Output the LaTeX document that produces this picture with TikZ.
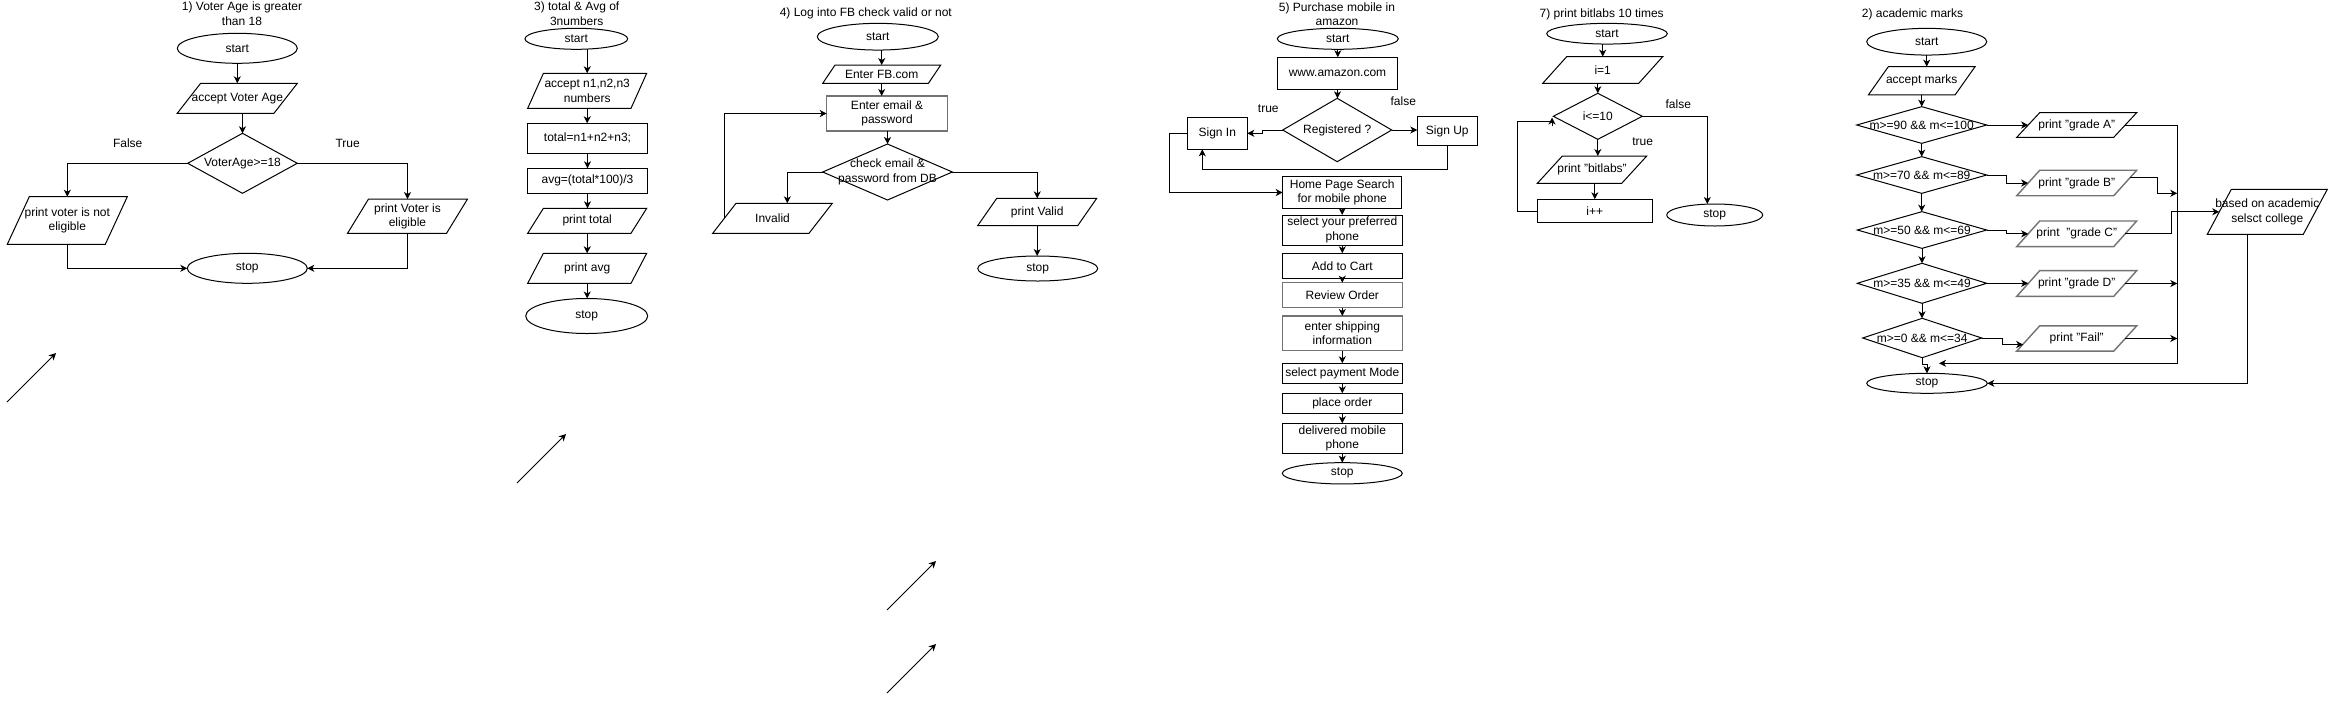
\documentclass[tikz,border=0pt]{standalone}
\usepackage{fontspec}
\setmainfont{Liberation Sans}
\usetikzlibrary{shapes.geometric,arrows.meta,calc}
\tikzset{
  txtbase/.style={inner sep=0pt, outer sep=0pt, align=center, font=\fontsize{12}{14.3}\selectfont},
  lbl/.style={txtbase},
  termbox/.style={txtbase, ellipse, draw, line width=1pt},
  procbox/.style={txtbase, rectangle, draw, line width=1pt},
  holder/.style={txtbase, rectangle},
  shp/.style={line width=1pt, line join=miter},
  grayshp/.style={line width=1.4pt, draw=black!55},
  arr/.style={line width=1pt, -{Stealth[length=7pt,width=7pt,inset=2pt]}},
  ln/.style={line width=1pt},
}
% name, x, y, w, h, text
\newcommand\mkterm[6]{\node[termbox, minimum width=#4pt, minimum height=#5pt] (#2) at (#3,#4) {#6};}
\newcommand\mktermb[6]{\node[termbox, minimum width=#4pt, minimum height=#5pt] (#1) at (#2,#3) {#6};}
% [style] name, x, y, w, h, text
\newcommand\mkproc[7][]{\node[procbox,#1, minimum width=#5pt, minimum height=#6pt] (#2) at (#3,#4) {#7};}
% [style] name, x, y, mid width, h, half slant, text
\newcommand\mkio[8][]{%
  \node[holder, minimum width=#5pt, minimum height=#6pt, label={[txtbase]center:{#8}}] (#2) at (#3,#4) {};
  \draw[shp,#1] ([xshift=#7pt]#2.north west) -- ([xshift=#7pt]#2.north east) -- ([xshift=-#7pt]#2.south east) -- ([xshift=-#7pt]#2.south west) -- cycle;}
% name, x, y, w, h, text
\newcommand\mkdec[6]{%
  \node[holder, minimum width=#4pt, minimum height=#5pt] (#1) at (#2,#3) {#6};
  \draw[shp] (#1.west) -- (#1.north) -- (#1.east) -- (#1.south) -- cycle;}
\begin{document}
\begin{tikzpicture}[x=1pt,y=-1pt]
\fill[white] (0,0) rectangle (2328,702);
\useasboundingbox (0,0) rectangle (2328,702);

% ===== 1) Voter =====
\node[lbl] (v_title) at (242,13.7) {1) Voter Age is greater\\than 18};
\mktermb{v_start}{237.3}{48.3}{120}{30}{start}
\mkio{v_acc}{237.3}{98.3}{96.7}{30}{11.7}{accept Voter Age}
\mkdec{v_dia}{242.5}{163.3}{109.6}{60}{VoterAge>=18}
\node[lbl] (v_false) at (127.7,143.3) {False};
\node[lbl] (v_true) at (347.7,143.3) {True};
\mkio{v_no}{67.3}{220.5}{98}{47.6}{11}{print voter is not\\eligible}
\mkio{v_yes}{407.5}{216.2}{99}{34.3}{10.5}{print Voter is\\eligible}
\mktermb{v_stop}{247.3}{268.3}{120}{30}{stop}
\draw[arr] (v_start.south) -- (v_acc.north);
\draw[arr] (v_dia.north |- v_acc.south) -- (v_dia.north);
\draw[arr] (v_dia.west) -| (v_no.north);
\draw[arr] (v_dia.east) -| (v_yes.north);
\draw[arr] (v_no.south) |- (v_stop.west);
\draw[arr] (v_yes.south) |- (v_stop.east);

% ===== 3) total & avg =====
\node[lbl] (t_title) at (576.7,13.7) {3) total \& Avg of\\3numbers};
\mktermb{t_start}{576.3}{38.8}{102.7}{21}{start}
\mkio{t_acc}{587.2}{90.8}{103.3}{35}{7.85}{accept n1,n2,n3\\numbers}
\mkproc{t_tot}{587.5}{138.3}{119.6}{30}{total=n1+n2+n3;}
\mkproc{t_avg}{587.5}{180.8}{119.6}{25}{avg=(total*100)/3}
\mkio{t_pt}{587.2}{220.8}{103.3}{25}{7.85}{print total}
\mkio{t_pa}{587.2}{268.3}{103.3}{30}{7.85}{print avg}
\mktermb{t_stop}{586.7}{316}{122}{35}{stop}
\draw[arr] (t_acc.north |- t_start.south) -- (t_acc.north);
\draw[arr] (t_acc.south) -- (t_acc.south |- t_tot.north);
\draw[arr] (t_tot.south) -- (t_avg.north);
\draw[arr] (t_avg.south) -- (t_avg.south |- t_pt.north);
\draw[arr] (t_pt.south) -- (t_pa.north);
\draw[arr] (t_pa.south) -- (t_pa.south |- t_stop.north);

% ===== 4) FB =====
\node[lbl] (f_title) at (865.8,13.3) {4) Log into FB check valid or not};
\mktermb{f_start}{877.8}{36.7}{121}{26.7}{start}
\mkio{f_fb}{881.7}{74.2}{105.7}{18.3}{6.15}{Enter FB.com}
\mkproc[grayshp]{f_em}{887}{113.5}{120.6}{35}{Enter email \&\\password}
\mkdec{f_dia}{887.5}{172}{129.6}{56}{check email \&\\password from DB}
\mkio{f_inv}{772.5}{218.3}{96.3}{30}{11.65}{Invalid}
\mkio{f_val}{1037.2}{212}{100}{27.3}{9.5}{print Valid}
\mktermb{f_stop}{1037.7}{268.5}{120}{25}{stop}
\draw[arr] (f_fb.north |- f_start.south) -- (f_fb.north);
\draw[arr] (f_fb.south) -- (f_fb.south |- f_em.north);
\draw[arr] (f_dia.north |- f_em.south) -- (f_dia.north);
\draw[arr] (f_dia.west) -| ([xshift=14.8pt]f_inv.north);
\draw[arr] (f_inv.west) |- (f_em.west);
\draw[arr] (f_dia.east) -| (f_val.north);
\draw[arr] (f_val.south) -- (f_val.south |- f_stop.north);

% ===== 5) Amazon =====
\node[lbl] (a_title) at (1337,14) {5) Purchase mobile in\\amazon};
\mktermb{a_start}{1337.8}{38.8}{121}{21}{start}
\mkproc{a_www}{1337.5}{73.3}{120.4}{32}{www.amazon.com}
\mkdec{a_dia}{1337.2}{130}{109}{63.4}{Registered ?}
\node[lbl] (a_true) at (1268.3,109) {true};
\node[lbl] (a_false) at (1403.3,101.7) {false};
\mkproc{a_in}{1217.3}{133.3}{60}{32}{Sign In}
\mkproc{a_up}{1447.3}{131.2}{60}{29}{Sign Up}
\mkproc{a_home}{1342.2}{192.5}{119}{31.6}{Home Page Search\\for mobile phone}
\mkproc{a_sel}{1342.3}{230}{120}{30}{select your preferred\\phone}
\mkproc{a_cart}{1342.3}{265.8}{120}{25}{Add to Cart}
\mkproc[grayshp]{a_rev}{1342.3}{295.2}{120}{25}{Review Order}
\mkproc[grayshp]{a_ship}{1342.3}{333.3}{120}{34.7}{enter shipping\\information}
\mkproc{a_pay}{1342.3}{373.3}{120}{20}{select payment Mode}
\mkproc{a_place}{1342.3}{403.3}{120}{20}{place order}
\mkproc{a_del}{1342.3}{438.3}{120}{30}{delivered mobile\\phone}
\mktermb{a_stop}{1342.3}{473.3}{120}{21.3}{stop}
\coordinate (a_ybot) at (0,169);
\draw[arr] (a_start.south) -- (a_start.south |- a_www.north);
\draw[arr] (a_www.south) -- (a_www.south |- a_dia.north);
\draw[arr] (a_dia.west) -- ([xshift=-20pt]a_dia.west) |- (a_in.east);
\draw[arr] (a_dia.east) -- (a_dia.east -| a_up.west);
\draw[arr] (a_up.south) -- (a_up.south |- a_ybot) -| ([xshift=-15pt]a_in.south);
\draw[arr] (a_in.west) -- ([xshift=-18pt]a_in.west) |- (a_home.west);
\draw[arr] (a_home.south) -- (a_home.south |- a_sel.north);
\draw[arr] (a_sel.south) -- (a_cart.north);
\draw[arr] (a_cart.south) -- (a_rev.north);
\draw[arr] (a_rev.south) -- (a_ship.north);
\draw[arr] (a_ship.south) -- (a_pay.north);
\draw[arr] (a_pay.south) -- (a_place.north);
\draw[arr] (a_place.south) -- (a_del.north);
\draw[arr] (a_del.south) -- (a_stop.north);

% ===== 7) bitlabs =====
\node[lbl] (b_title) at (1601.7,14) {7) print bitlabs 10 times};
\mktermb{b_start}{1607}{33.7}{120.6}{20.7}{start}
\mkio{b_i1}{1602.7}{70}{96}{26.7}{12}{i=1}
\mkdec{b_dia}{1597.8}{116.3}{89}{46}{i<=10}
\node[lbl] (b_false) at (1678.3,104) {false};
\node[lbl] (b_true) at (1642.7,141.7) {true};
\mkio{b_pr}{1592}{169.7}{84.4}{27.3}{12.5}{print "bitlabs"}
\mkproc{b_inc}{1594.8}{211}{115}{23.4}{i++}
\mktermb{b_stop}{1714.7}{215}{96}{22}{stop}
\coordinate (b_loopc) at (1552,121);
\coordinate (b_tipbase) at (1552,125.5);
\coordinate (b_tip) at (1552,117.5);
\draw[arr] (b_i1.north |- b_start.south) -- (b_i1.north);
\draw[arr] (b_dia.north |- b_i1.south) -- (b_dia.north);
\draw[arr] (b_dia.south) -- (b_dia.south |- b_pr.north);
\draw[arr] (b_inc.north |- b_pr.south) -- (b_inc.north);
\draw[ln] (b_inc.west) -- ([xshift=-20pt]b_inc.west) |- (b_loopc);
\draw[arr] (b_tipbase) -- (b_tip);
\draw[arr] (b_dia.east) -| ([xshift=-7.4pt]b_stop.north);

% ===== 2) academic marks =====
\node[lbl] (g_title) at (1912.5,14) {2) academic marks};
\mktermb{g_start}{1926.7}{41.7}{120}{26.7}{start}
\mkio{g_acc}{1921.7}{80.8}{86.7}{28.3}{10}{accept marks}
\mkdec{g_d1}{1921.7}{125}{130}{36.7}{m>=90 \&\& m<=100}
\mkdec{g_d2}{1921.7}{175}{130}{36.7}{m>=70 \&\& m<=89}
\mkdec{g_d3}{1922}{230}{129.4}{36.7}{m>=50 \&\& m<=69}
\mkdec{g_d4}{1922}{283.3}{129.4}{40}{m>=35 \&\& m<=49}
\mkdec{g_d5}{1922.2}{338}{119}{39.4}{m>=0 \&\& m<=34}
\mktermb{g_stop}{1927}{383.3}{120.6}{20}{stop}
\mkio{g_pa}{2076.7}{125}{97}{24.7}{11.5}{print "grade A"}
\mkio[grayshp]{g_pb}{2076.7}{183}{97}{25.5}{11.5}{print "grade B"}
\mkio[grayshp]{g_pc}{2076.7}{233.8}{97}{25.7}{11.5}{print\ \ "grade C"}
\mkio[grayshp]{g_pd}{2076.7}{283.5}{97}{25.7}{11.5}{print "grade D"}
\mkio[grayshp]{g_pf}{2076.7}{338.5}{97}{25.3}{11.5}{print "Fail"}
\mkio{g_col}{2267.3}{211.8}{96}{45}{12}{based on academic\\selsct college}
\coordinate (g_rx) at (2177.3,0);
\coordinate (g_join) at (1939,363.3);
\coordinate (g_bend) at (2177.3,193.3);
\draw[arr] (g_start.south) -- (g_start.south |- g_acc.north);
\draw[arr] (g_d1.north |- g_acc.south) -- (g_d1.north);
\draw[arr] (g_d1.south) -- (g_d2.north);
\draw[arr] (g_d2.south) -- (g_d2.south |- g_d3.north);
\draw[arr] (g_d3.south) -- (g_d3.south |- g_d4.north);
\draw[arr] (g_d4.south) -- (g_d4.south |- g_d5.north);
\draw[arr] (g_d5.south) -- ++(0,7) -| (g_stop.north);
\draw[arr] (g_d1.east) -- (g_pa.west);
\draw[arr] (g_d2.east) -- ++(20,0) |- (g_pb.west);
\draw[arr] (g_d3.east) -- ++(20,0) |- (g_pc.west);
\draw[arr] (g_d4.east) -- (g_d4.east -| g_pd.west);
\draw[arr] (g_d5.east) -- ++(21,0) |- ([xshift=-5pt,yshift=-6pt]g_pf.west);
\draw[arr] (g_pa.east) -| (g_rx |- g_join) -- (g_join);
\draw[arr] ([xshift=5pt,yshift=5.7pt]g_pb.east) -- ++(27,0) |- (g_bend);
\draw[arr] (g_pc.east) -- ++(46.5,0) |- (g_col.west);
\draw[arr] (g_pd.east) -- (g_pd.east -| g_rx);
\draw[arr] (g_pf.east) -- (g_pf.east -| g_rx);
\draw[arr] ([xshift=-20pt]g_col.south) |- (g_stop.east);

% ===== stray arrows =====
\coordinate (s1a) at (7,402);   \coordinate (s1b) at (56,353);
\coordinate (s2a) at (517,483); \coordinate (s2b) at (566,434);
\coordinate (s3a) at (887,610); \coordinate (s3b) at (936,561);
\coordinate (s4a) at (887,693); \coordinate (s4b) at (936,644);
\draw[arr] (s1a) -- (s1b);
\draw[arr] (s2a) -- (s2b);
\draw[arr] (s3a) -- (s3b);
\draw[arr] (s4a) -- (s4b);
\end{tikzpicture}
\end{document}
